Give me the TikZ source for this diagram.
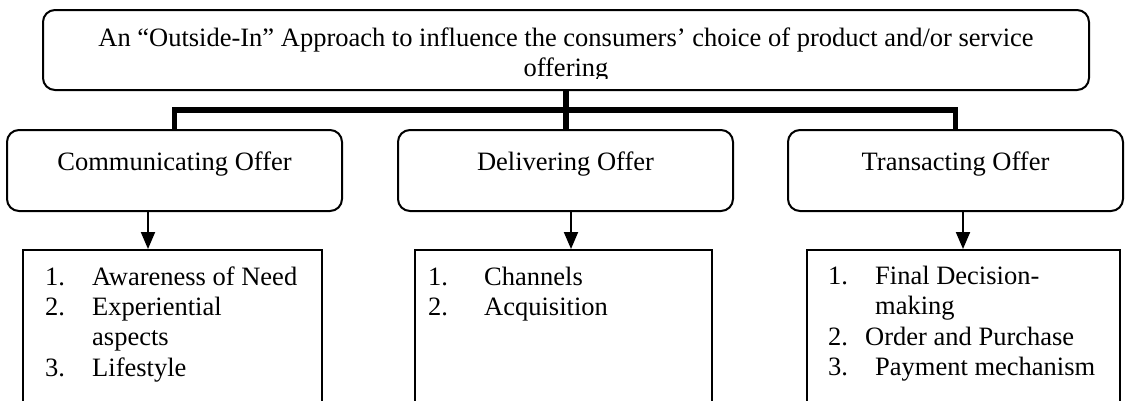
\documentclass[tikz,border=0pt]{standalone}
\usepackage{fontspec}
\setmainfont{Liberation Serif}
\usetikzlibrary{arrows.meta}
\tikzset{
  rbox/.style={draw, line width=2pt, rounded corners=12pt, inner sep=0pt},
  sbox/.style={draw, line width=2pt, inner sep=0pt},
  txt/.style={inner sep=0pt, anchor=base, font=\fontsize{26.5}{30}\selectfont},
  item/.style={inner sep=0pt, anchor=base west, font=\fontsize{26.5}{30}\selectfont},
  busline/.style={line width=5.5pt, line join=miter},
  arrowline/.style={line width=2pt, -{Triangle[width=14pt,length=17pt]}},
}
\begin{document}
\begin{tikzpicture}[x=1pt,y=-1pt]
\useasboundingbox (0,0) rectangle (1128,400);
\clip (0,0) rectangle (1128,400);
% boxes
\node[rbox, minimum width=1046pt, minimum height=80pt] (top) at (566,50) {};
\node[rbox, minimum width=335pt, minimum height=81pt] (comm) at (174.5,170.5) {};
\node[rbox, minimum width=335pt, minimum height=81pt] (deliv) at (565.5,170.5) {};
\node[rbox, minimum width=335pt, minimum height=81pt] (trans) at (955.5,170.5) {};
\node[sbox, minimum width=299pt, minimum height=170pt] (l1) at (172.5,335) {};
\node[sbox, minimum width=297pt, minimum height=170pt] (l2) at (563.5,335) {};
\node[sbox, minimum width=313pt, minimum height=170pt] (l3) at (963.5,335) {};
% top text (second line cut by the box)
\begin{scope}
\clip (43,10) rectangle (1089,78);
\node[txt] (t1) at (566,46) {An “Outside-In” Approach to influence the consumers’ choice of product and/or service};
\node[txt] (t2) at (566,76) {offering};
\end{scope}
% second level labels
\node[txt] (commT) at (174.5,170) {Communicating Offer};
\node[txt] (delivT) at (565.5,170) {Delivering Offer};
\node[txt] (transT) at (955.5,170) {Transacting Offer};
% bus connector
\coordinate (bus) at (566,110);
\draw[busline] (top.south -| bus) -- (deliv.north -| bus);
\draw[busline] (comm.north) |- (bus) -| (trans.north);
% arrows
\coordinate (a1) at (148,0);
\coordinate (a2) at (571,0);
\coordinate (a3) at (963,0);
\draw[arrowline] (comm.south -| a1) -- (l1.north -| a1);
\draw[arrowline] (deliv.south -| a2) -- (l2.north -| a2);
\draw[arrowline] (trans.south -| a3) -- (l3.north -| a3);
% list 1
\node[item] (n11) at (45,285) {1.};
\node[item] (i11) at (92,285) {Awareness of Need};
\node[item] (n12) at (45,315) {2.};
\node[item] (i12) at (92,315) {Experiential};
\node[item] (i12b) at (92,345) {aspects};
\node[item] (n13) at (45,376) {3.};
\node[item] (i13) at (92,376) {Lifestyle};
% list 2
\node[item] (n21) at (428,285) {1.};
\node[item] (i21) at (484,285) {Channels};
\node[item] (n22) at (428,315) {2.};
\node[item] (i22) at (484,315) {Acquisition};
% list 3
\node[item] (n31) at (828,284) {1.};
\node[item] (i31) at (875,284) {Final Decision-};
\node[item] (i31b) at (875,314) {making};
\node[item] (n32) at (828,345) {2.};
\node[item] (i32) at (865,345) {Order and Purchase};
\node[item] (n33) at (828,375) {3.};
\node[item] (i33) at (875,375) {Payment mechanism};
\end{tikzpicture}
\end{document}
